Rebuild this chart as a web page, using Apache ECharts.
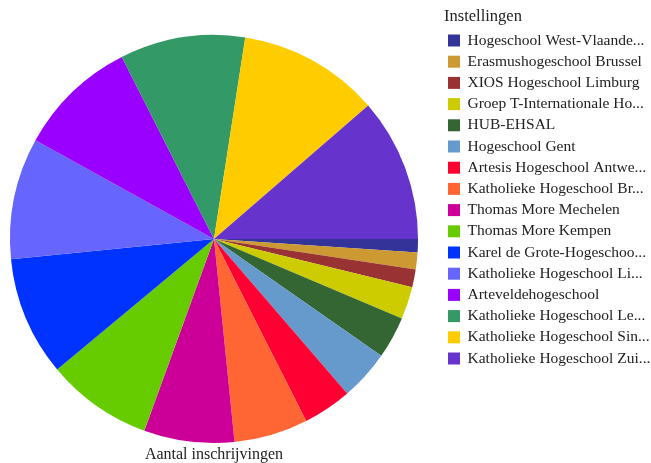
<!DOCTYPE html>
<html>
<head>
<meta charset="utf-8">
<script src="https://cdn.jsdelivr.net/npm/echarts@6/dist/echarts.min.js"></script>
<style>
    html, body { margin: 0; padding: 0; background: #fff; }
    #chart { width: 651px; height: 463px; }
</style>
</head>
<body>
<div id="chart"></div>
<script>
// instellingen (categorieen), in volgorde van de taart
var schools = [
    'Hogeschool West-Vlaanderen',
    'Erasmushogeschool Brussel',
    'XIOS Hogeschool Limburg',
    'Groep T-Internationale Hogeschool Leuven',
    'HUB-EHSAL',
    'Hogeschool Gent',
    'Artesis Hogeschool Antwerpen',
    'Katholieke Hogeschool Brugge-Oostende',
    'Thomas More Mechelen',
    'Thomas More Kempen',
    'Karel de Grote-Hogeschool',
    'Katholieke Hogeschool Limburg',
    'Arteveldehogeschool',
    'Katholieke Hogeschool Leuven',
    'Katholieke Hogeschool Sint-Lieven',
    'Katholieke Hogeschool Zuid-West-Vlaanderen'
];
// zoals ze in de legende staan (afgekort)
var legendLabels = [
    'Hogeschool West-Vlaande...',
    'Erasmushogeschool Brussel',
    'XIOS Hogeschool Limburg',
    'Groep T-Internationale Ho...',
    'HUB-EHSAL',
    'Hogeschool Gent',
    'Artesis Hogeschool Antwe...',
    'Katholieke Hogeschool Br...',
    'Thomas More Mechelen',
    'Thomas More Kempen',
    'Karel de Grote-Hogeschoo...',
    'Katholieke Hogeschool Li...',
    'Arteveldehogeschool',
    'Katholieke Hogeschool Le...',
    'Katholieke Hogeschool Sin...',
    'Katholieke Hogeschool Zui...'
];
// aantal inschrijvingen (geschat uit de figuur)
var enrollments = [113, 144, 153, 278, 360, 429, 417, 633, 773, 908, 1023, 1038, 1026, 1071, 1209, 1227];
var colors = ['#333399', '#cc9933', '#993333', '#cccc00', '#336633', '#6699cc', '#ff0033', '#ff6633',
    '#cc0099', '#66cc00', '#0033ff', '#6666ff', '#9900ff', '#339966', '#ffcc00', '#6633cc'];

var chart = echarts.init(document.getElementById('chart'));

var pieData = [];
for (var i = 0; i < schools.length; i++) {
    pieData.push({ name: schools[i], value: enrollments[i] });
}

var option = {
    animation: false,
    color: colors,
    textStyle: { fontFamily: 'Liberation Serif' },
    title: [{
        text: 'Aantal inschrijvingen',
        left: 214,
        top: 447,
        textAlign: 'center',
        padding: 0,
        textStyle: { fontFamily: 'Liberation Serif', fontSize: 16, fontWeight: 'normal', color: '#222' }
    }, {
        text: 'Instellingen',
        left: 444,
        top: 8,
        padding: 0,
        textStyle: { fontFamily: 'Liberation Serif', fontSize: 16.5, fontWeight: 'normal', color: '#222' }
    }],
    legend: {
        orient: 'vertical',
        left: 448,
        top: 32.5,
        padding: 0,
        icon: 'rect',
        itemWidth: 12,
        itemHeight: 12,
        itemGap: 5.2,
        selectedMode: false,
        data: schools,
        formatter: function (name) {
            return legendLabels[schools.indexOf(name)];
        },
        textStyle: {
            fontFamily: 'Liberation Serif',
            fontSize: 15.5,
            lineHeight: 14,
            color: '#222',
            padding: [0, 0, 0, 2.5]
        }
    },
    series: [{
        name: 'Aantal inschrijvingen',
        type: 'pie',
        center: [214, 239],
        radius: 204,
        startAngle: 0,
        clockwise: true,
        label: { show: false },
        labelLine: { show: false },
        emphasis: { disabled: true },
        data: pieData
    }]
};
chart.setOption(option, true);
</script>
</body>
</html>
